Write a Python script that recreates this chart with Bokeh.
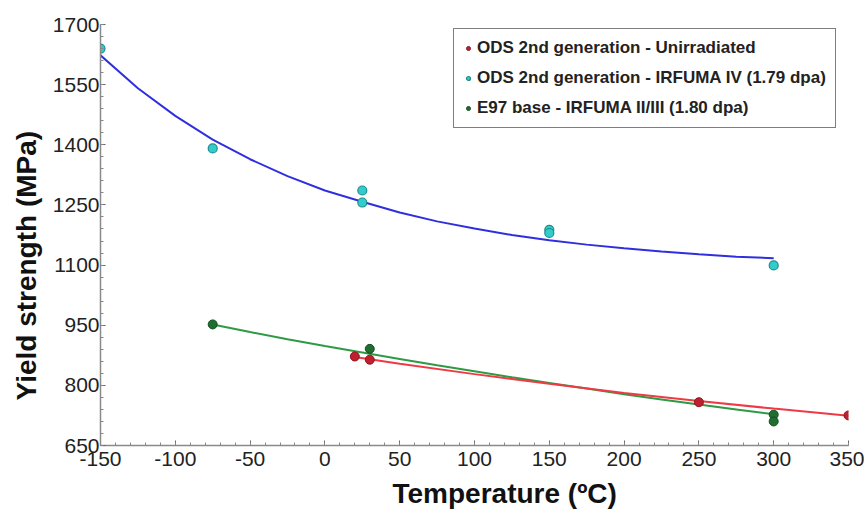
from bokeh.plotting import figure
from bokeh.models import Range1d, FixedTicker, Legend, LegendItem, Title
from bokeh.embed import file_html
from bokeh.resources import INLINE

# ---- data ----
red_T = [20, 30, 250, 350]
red_Y = [872, 864, 758, 725]

cyan_T = [-150, -75, 25, 25, 150, 150, 300]
cyan_Y = [1640, 1391, 1286, 1256, 1188, 1180, 1099]

green_T = [-75, 30, 300, 300]
green_Y = [952, 891, 727, 710]

# fitted curves
blue_fit_T = [-150, -125, -100, -75, -50, -25, 0, 25, 50, 75, 100, 125, 150, 175, 200, 225, 250, 275, 300]
blue_fit_Y = [1623, 1541, 1472, 1413, 1364, 1322, 1286, 1258, 1231, 1209, 1191, 1175, 1162, 1151, 1142, 1134, 1127, 1121, 1117]

green_fit_T = [-75, -50, -25, 0, 25, 50, 75, 100, 125, 150, 175, 200, 225, 250, 275, 300]
green_fit_Y = [952, 933, 915, 898, 882, 866, 850, 835, 820, 806, 792, 778, 765, 752, 740, 728]

red_fit_T = [20, 50, 100, 150, 200, 250, 300, 350]
red_fit_Y = [871, 854, 828, 804, 781, 761, 742, 724]

x_ticks = [-150, -100, -50, 0, 50, 100, 150, 200, 250, 300, 350]
x_tick_labels = ["-150", "-100", "-50", "0", "50", "100", "150", "200", "250", "300", "350"]
y_ticks = [650, 800, 950, 1100, 1250, 1400, 1550, 1700]
x_minor = list(range(-150, 351, 10))
y_minor = list(range(650, 1701, 30))

x_title = "Temperature (ºC)"
y_title = "Yield strength (MPa)"
labels = ["ODS 2nd generation - Unirradiated",
          "ODS 2nd generation - IRFUMA IV (1.79 dpa)",
          "E97 base - IRFUMA II/III (1.80 dpa)"]

p = figure(width=864, height=520, output_backend="svg", toolbar_location=None,
           x_range=Range1d(-150, 350), y_range=Range1d(650, 1700),
           min_border_left=100, min_border_right=16, min_border_top=24, min_border_bottom=75)
p.outline_line_color = None
p.xgrid.visible = False
p.ygrid.visible = False
p.background_fill_color = "white"

# curves
p.line(blue_fit_T, blue_fit_Y, line_color="#2f2fe0", line_width=2)
p.line(green_fit_T, green_fit_Y, line_color="#2e9a44", line_width=2)
p.line(red_fit_T, red_fit_Y, line_color="#ee3a45", line_width=2)

r_red = p.scatter(red_T, red_Y, size=9, fill_color="#c0202e", line_color="#8e1420", line_width=1)
r_cyan = p.scatter(cyan_T, cyan_Y, size=9, fill_color="#33cccc", line_color="#1e8c8c", line_width=1.2)
r_green = p.scatter(green_T, green_Y, size=9, fill_color="#1f6e30", line_color="#144d20", line_width=1)

legend = Legend(items=[LegendItem(label=labels[0], renderers=[r_red]),
                       LegendItem(label=labels[1], renderers=[r_cyan]),
                       LegendItem(label=labels[2], renderers=[r_green])],
                location=(353, 317))
legend.border_line_color = "black"
legend.border_line_width = 1.5
legend.label_text_font = "Liberation Sans"
legend.label_text_font_size = "17px"
legend.label_text_font_style = "bold"
legend.label_text_color = "#222222"
legend.label_height = 20
legend.glyph_height = 20
legend.glyph_width = 10
legend.label_standoff = 4
legend.spacing = 10
legend.padding = 9
legend.margin = 0
legend.background_fill_alpha = 1
p.add_layout(legend)

for ax, ticks, minor in ((p.xaxis[0], x_ticks, x_minor), (p.yaxis[0], y_ticks, y_minor)):
    ax.ticker = FixedTicker(ticks=ticks, minor_ticks=minor)
    ax.axis_line_color = "#8a8a8a"
    ax.axis_line_width = 1.5
    ax.major_tick_in = 5
    ax.major_tick_out = 0
    ax.minor_tick_in = 3
    ax.minor_tick_out = 0
    ax.major_tick_line_color = "#666666"
    ax.minor_tick_line_color = "#888888"
    ax.major_label_text_font = "Liberation Sans"
    ax.major_label_text_font_size = "21px"
    ax.major_label_text_color = "#222222"

p.xaxis.major_label_overrides = {t: s for t, s in zip(x_ticks, x_tick_labels)}
p.xaxis.major_label_standoff = 6
p.yaxis.major_label_standoff = 1

# axis titles, offset along the axis as in the reference
p.add_layout(Title(text=x_title, align="left", offset=292, standoff=14,
                   text_font="Liberation Sans", text_font_size="28px", text_font_style="bold",
                   text_color="#111111"), "below")
p.add_layout(Title(text=y_title, align="left", offset=45, standoff=16,
                   text_font="Liberation Sans", text_font_size="28px", text_font_style="bold",
                   text_color="#111111"), "left")

open("out.html", "w").write(file_html(p, INLINE))
